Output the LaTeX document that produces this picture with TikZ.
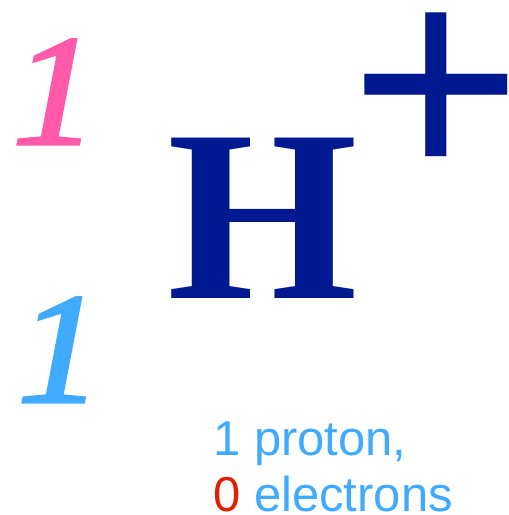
\documentclass[tikz,border=0pt]{standalone}
\usepackage{fontspec}
\setmainfont{Liberation Serif}
\setsansfont{Liberation Sans}
\newfontfamily\numfont{Liberation Serif}[ItalicFeatures={FakeBold=2}]
\usepackage{xcolor}
\usetikzlibrary{positioning}

\definecolor{massPink}{HTML}{FF5AAA}
\definecolor{numBlue}{HTML}{40AAFF}
\definecolor{symNavy}{HTML}{001890}
\definecolor{zeroRed}{HTML}{E02000}

\begin{document}
\begin{tikzpicture}[
    x=1pt, y=1pt,
    num/.style={inner sep=0pt, anchor=base west, font=\fontsize{158}{158}\selectfont\numfont\itshape, xscale=1.08},
    sym/.style={inner sep=0pt, anchor=base west, text=symNavy}
]
\useasboundingbox (0,0) rectangle (509,515);

\node[num, text=massPink] (mass) at (12,371) {1};
\node[num, text=numBlue] (atomic) at (17,113) {1};

\node[sym, font=\fontsize{245}{245}\selectfont\bfseries] (elem) at (167,216) {H};
\node[sym, font=\fontsize{294}{294}\selectfont\sffamily] (charge) at (350,332) {+};

\node[inner sep=0pt, anchor=base west, align=left, text=numBlue,
      font=\fontsize{49}{57}\selectfont\sffamily] (info) at (213,3)
    {1 proton,\\\textcolor{zeroRed}{0} electrons};

\end{tikzpicture}
\end{document}
